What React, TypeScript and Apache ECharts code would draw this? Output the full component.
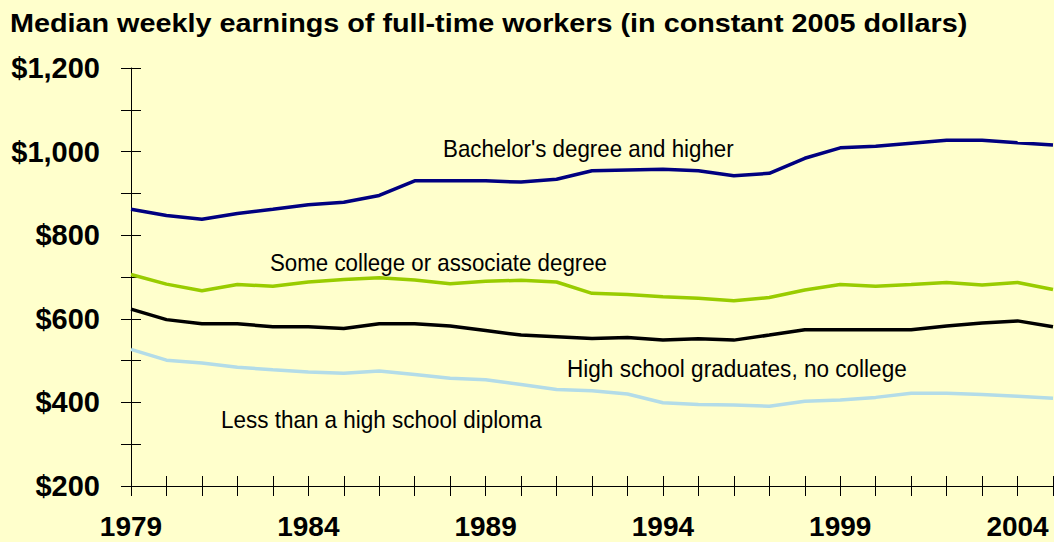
import React, { useEffect, useRef } from "react";
import * as echarts from "echarts";

const years = [1979, 1980, 1981, 1982, 1983, 1984, 1985, 1986, 1987, 1988, 1989, 1990, 1991, 1992, 1993, 1994, 1995, 1996, 1997, 1998, 1999, 2000, 2001, 2002, 2003, 2004, 2005];
const bachelor = [862, 847, 838, 852, 862, 873, 879, 895, 930, 930, 930, 927, 934, 954, 956, 958, 954, 942, 948, 984, 1009, 1013, 1020, 1027, 1027, 1021, 1016];
const someCollege = [706, 683, 667, 682, 678, 688, 694, 698, 693, 684, 690, 692, 688, 661, 658, 653, 649, 643, 651, 669, 682, 678, 682, 687, 681, 687, 670];
const highSchool = [623, 598, 588, 588, 581, 581, 577, 588, 588, 583, 572, 561, 557, 553, 555, 549, 552, 549, 561, 574, 574, 574, 574, 583, 590, 595, 581];
const lessThanHS = [527, 501, 494, 484, 478, 473, 470, 475, 467, 458, 454, 443, 431, 428, 420, 399, 395, 394, 391, 403, 406, 412, 422, 422, 419, 415, 410];

const titleText = "Median weekly earnings of full-time workers (in constant 2005 dollars)";
const seriesNames = [
  "Bachelor's degree and higher",
  "Some college or associate degree",
  "High school graduates, no college",
  "Less than a high school diploma",
];
const xLabelYears = [1979, 1984, 1989, 1994, 1999, 2004];

const FONT = "'Liberation Sans', Arial, Helvetica, sans-serif";

function fitScale(text: string, font: string, target: number) {
  const c = document.createElement("canvas").getContext("2d");
  if (!c) return 1;
  c.font = font;
  const w = c.measureText(text).width;
  return w > 0 ? target / w : 1;
}

export default function App() {
  const ref = useRef<HTMLDivElement>(null);
  useEffect(() => {
    if (!ref.current) return;
    const chart = echarts.init(ref.current, undefined, { renderer: "svg" });
    const pairs = (vals: number[]) => years.map((y, i) => [y, vals[i]]);
    const colors = ["#000080", "#99CC00", "#000000", "#B3DCE8"];
    const lines = [bachelor, someCollege, highSchool, lessThanHS];

    const annFont = `24px ${FONT}`;
    const ann = [
      { text: seriesNames[0], x: 443, y: 148.5, w: 291 },
      { text: seriesNames[1], x: 270, y: 263, w: 337 },
      { text: seriesNames[2], x: 567, y: 369, w: 340 },
      { text: seriesNames[3], x: 221, y: 420, w: 321 },
    ];
    const titleFont = `bold 26px ${FONT}`;

    const textEl = (t: string, x: number, y: number, sx: number, size: number, weight: string) => ({
      type: "text",
      x,
      y,
      scaleX: sx,
      z: 100,
      style: {
        text: t,
        fill: "#000000",
        fontSize: size,
        fontFamily: FONT,
        fontWeight: weight,
        textAlign: "left",
        textVerticalAlign: "middle",
        align: "left",
        verticalAlign: "middle",
      },
    });

    const baseX = {
      type: "value",
      min: 1979,
      max: 2005,
      interval: 1,
      position: "bottom",
      splitLine: { show: false },
    };
    const baseY = {
      type: "value",
      min: 200,
      max: 1200,
      interval: 100,
      position: "left",
      splitLine: { show: false },
    };

    chart.setOption({
      animation: false,
      backgroundColor: "#FFFFCC",
      grid: { left: 131, right: 1, top: 68, bottom: 56, containLabel: false, outerBoundsMode: "none" },
      xAxis: [
        {
          ...baseX,
          axisLine: { show: true, lineStyle: { color: "#000", width: 1 } },
          axisTick: { show: true, inside: false, length: 10, lineStyle: { color: "#000", width: 1 } },
          axisLabel: {
            show: true,
            margin: 29,
            lineHeight: 22,
            color: "#000",
            fontSize: 28,
            fontWeight: "bold",
            fontFamily: FONT,
            showMinLabel: true,
            showMaxLabel: true,
            formatter: (v: number) => (xLabelYears.includes(v) ? String(v) : ""),
          },
        },
        {
          ...baseX,
          axisLine: { show: false },
          axisTick: { show: true, inside: true, length: 10, lineStyle: { color: "#000", width: 1 } },
          axisLabel: { show: false },
        },
      ],
      yAxis: [
        {
          ...baseY,
          axisLine: { show: true, lineStyle: { color: "#000", width: 1 } },
          axisTick: { show: true, inside: false, length: 10, lineStyle: { color: "#000", width: 1 } },
          axisLabel: {
            show: true,
            margin: 31,
            color: "#000",
            fontSize: 29,
            fontWeight: "bold",
            fontFamily: FONT,
            formatter: (v: number) => (v % 200 === 0 ? "$" + v.toLocaleString("en-US") : ""),
          },
        },
        {
          ...baseY,
          axisLine: { show: false },
          axisTick: { show: true, inside: true, length: 10, lineStyle: { color: "#000", width: 1 } },
          axisLabel: { show: false },
        },
      ],
      series: lines.map((vals, i) => ({
        name: seriesNames[i],
        type: "line",
        xAxisIndex: 0,
        yAxisIndex: 0,
        data: pairs(vals),
        showSymbol: false,
        symbol: "none",
        lineStyle: { color: colors[i], width: 3.5 },
        itemStyle: { color: colors[i] },
        z: 10 - i,
      })),
      graphic: [
        textEl(titleText, 10, 23, fitScale(titleText, titleFont, 958), 26, "bold"),
        ...ann.map((a) => textEl(a.text, a.x, a.y, fitScale(a.text, annFont, a.w), 24, "normal")),
      ],
    });
    return () => chart.dispose();
  }, []);
  return (
    <div
      ref={ref}
      style={{ position: "fixed", left: 0, top: 0, width: 1054, height: 542, background: "#FFFFCC" }}
    />
  );
}
